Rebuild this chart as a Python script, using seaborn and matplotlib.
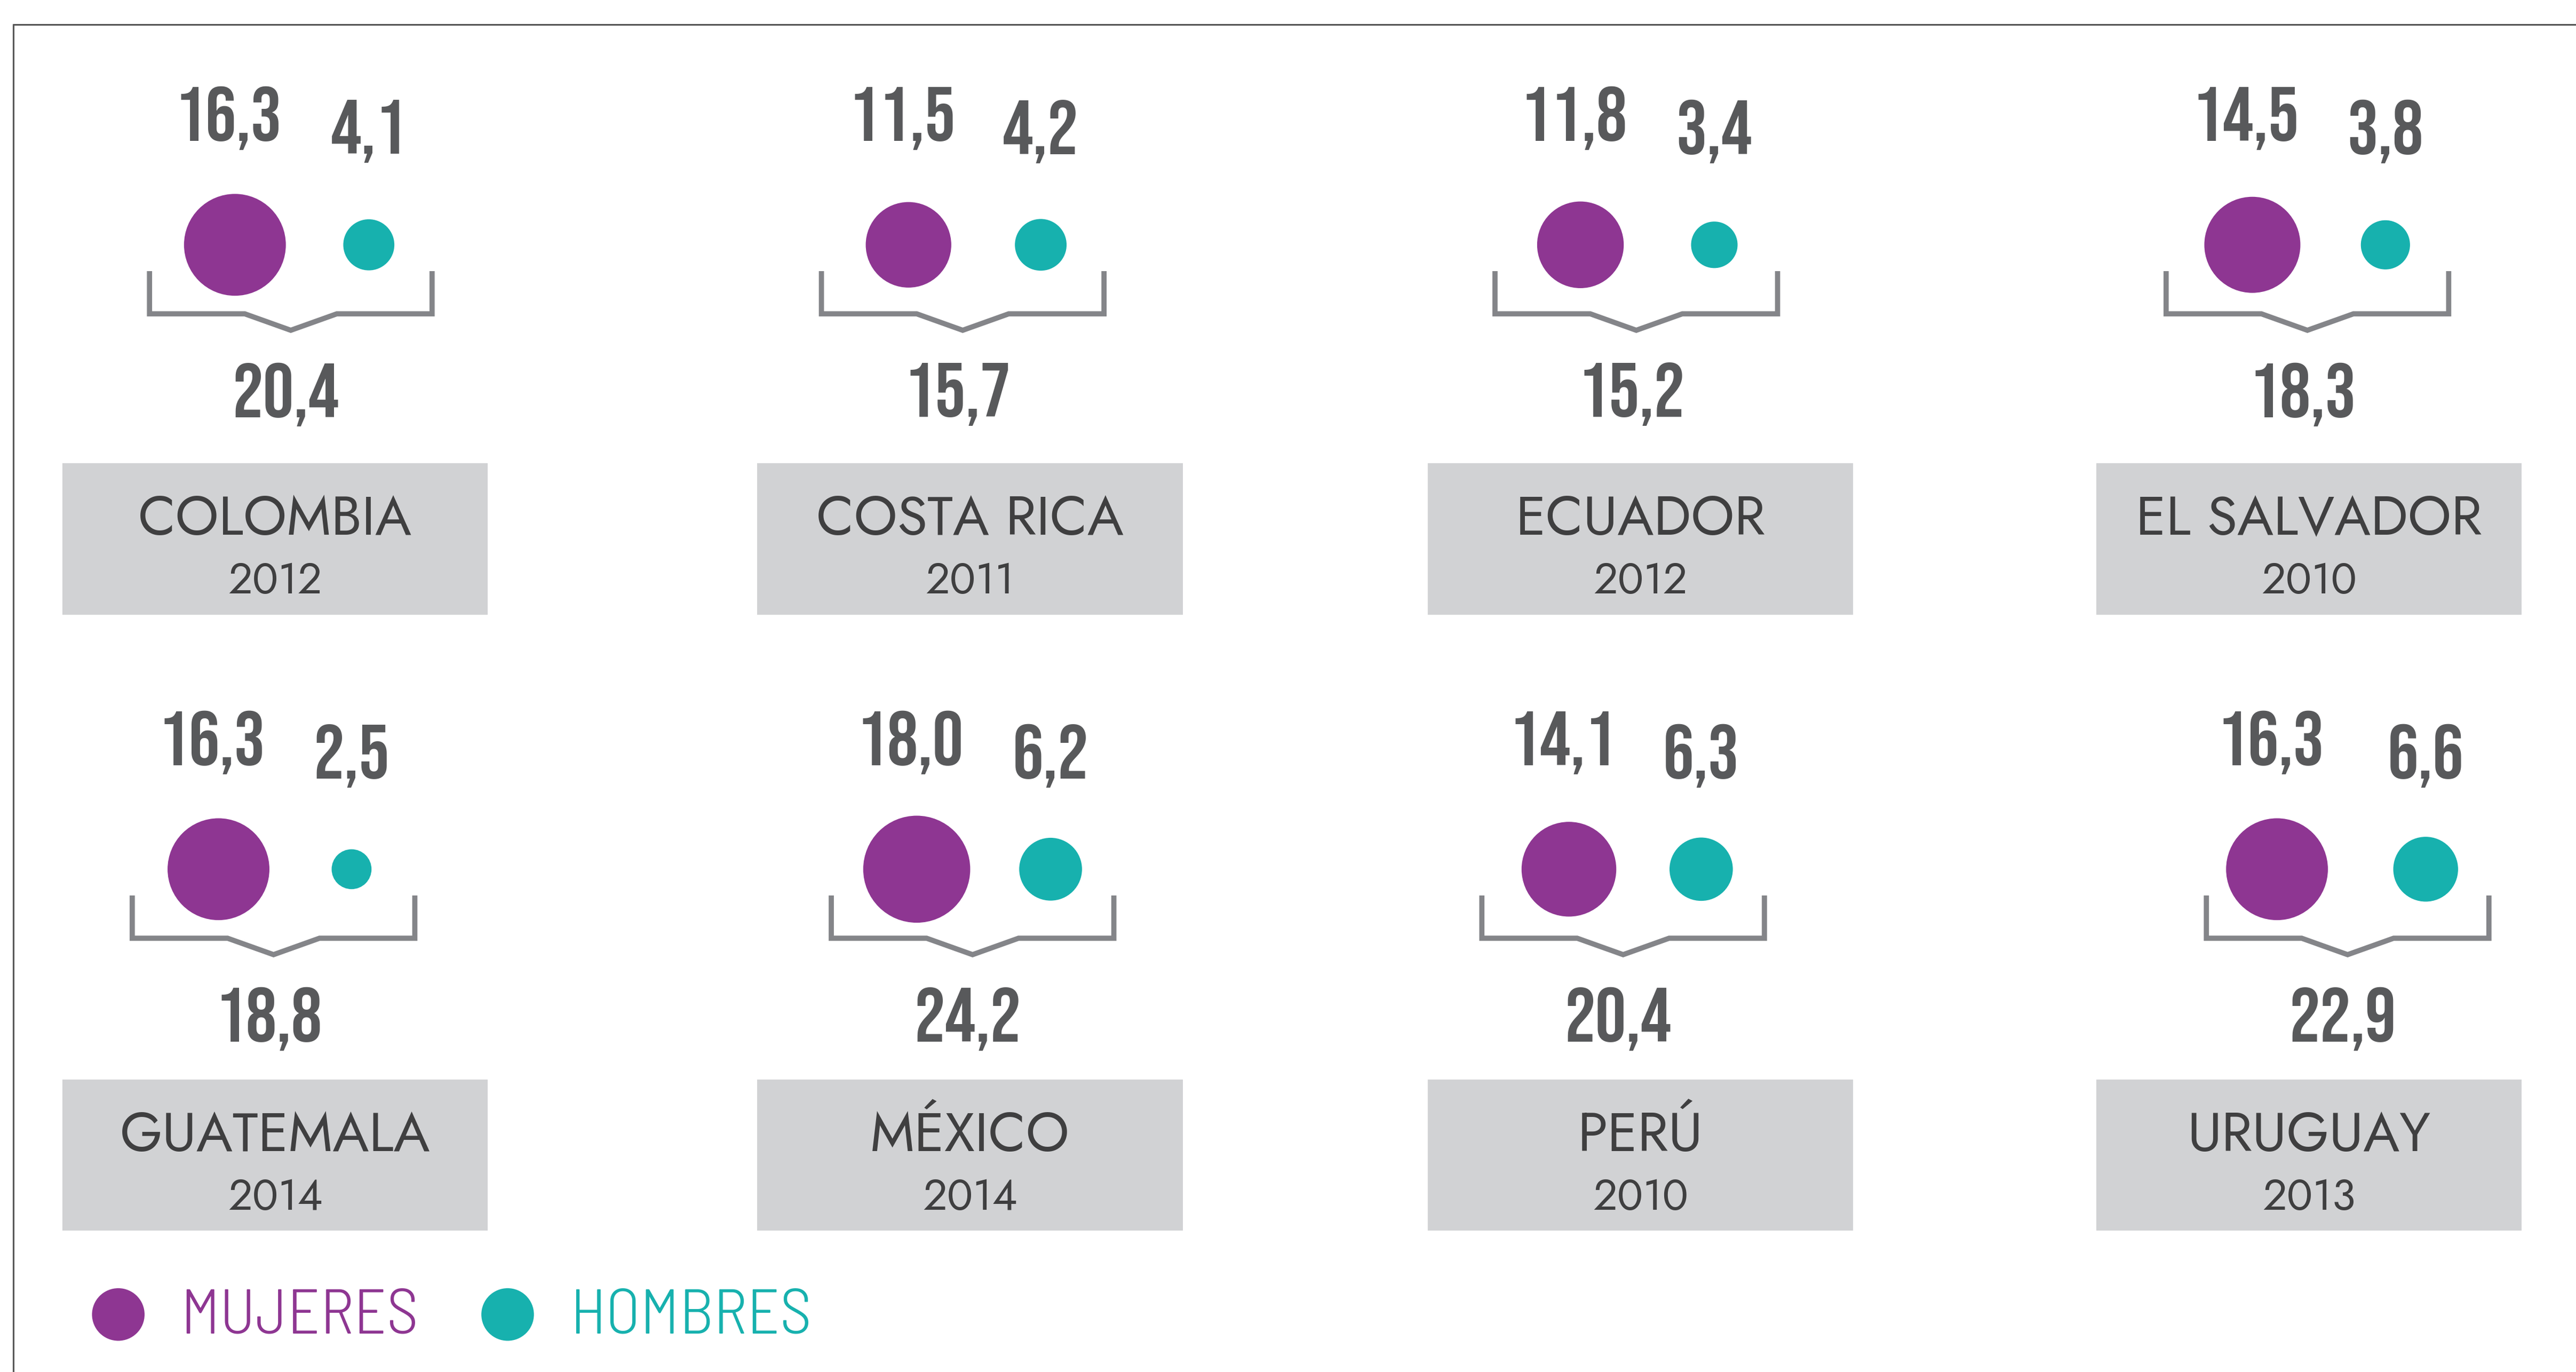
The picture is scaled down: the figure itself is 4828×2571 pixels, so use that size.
import matplotlib
matplotlib.use("Agg")
import matplotlib.pyplot as plt
import seaborn as sns
import pandas as pd

# data
countries = ["COLOMBIA", "COSTA RICA", "ECUADOR", "EL SALVADOR",
             "GUATEMALA", "MÉXICO", "PERÚ", "URUGUAY"]
years = ["2012", "2011", "2012", "2010", "2014", "2014", "2010", "2013"]
mujeres = [16.3, 11.5, 11.8, 14.5, 16.3, 18.0, 14.1, 16.3]
hombres = [4.1, 4.2, 3.4, 3.8, 2.5, 6.2, 6.3, 6.6]
total = [20.4, 15.7, 15.2, 18.3, 18.8, 24.2, 20.4, 22.9]

PURPLE = "#8e3692"
TEAL = "#17b1ae"
TXT = "#58595b"
DARK = "#3f3f40"
BOX = "#d1d2d4"
BRK = "#848589"

# layout (in units of the 1568 px wide preview)
box_cx = [167.5, 590.5, 998.5, 1405.5]
circ_y = [149, 529]
box_top = [282, 657]
group_x = [177, 586, 996, 1404.5, 166.5, 592, 988, 1429]
purple_dx = [-34, -33, -34, -33.5, -33.5, -34, -33, -43]
teal_dx = 47.5

NUMFONT = ["Bebas Neue", "DejaVu Sans"]
NAMEFONT = ["Jost", "DejaVu Sans"]
LEGFONT = ["Barlow Semi Condensed", "DejaVu Sans"]


def fmt(v):
    return f"{v:.1f}".replace(".", ",")


sns.set_theme(style="white")
fig = plt.figure(figsize=(48.28, 25.71), dpi=100)
ax = fig.add_axes([0, 0, 1, 1])
ax.set_xlim(0, 1568)
ax.set_ylim(835, 0)
ax.axis("off")

rows = []
for i in range(len(countries)):
    r = i // 4
    gx = group_x[i]
    rows.append({"x": gx + purple_dx[i], "y": circ_y[r], "sexo": "MUJERES", "valor": mujeres[i]})
    rows.append({"x": gx + teal_dx, "y": circ_y[r], "sexo": "HOMBRES", "valor": hombres[i]})
df = pd.DataFrame(rows)

# marker area proportional to value
k = 1158.6
sns.scatterplot(data=df, x="x", y="y", hue="sexo", size="valor",
                palette={"MUJERES": PURPLE, "HOMBRES": TEAL},
                sizes=(0, 30 * k), size_norm=(0, 30), linewidth=0,
                legend=False, ax=ax, zorder=3)

for i in range(len(countries)):
    r = i // 4
    c = i % 4
    gx = group_x[i]
    cy = circ_y[r]
    # value labels
    ax.text(gx + purple_dx[i] - 4, cy - 77, fmt(mujeres[i]), ha="center", va="center",
            fontsize=104, color=TXT, family=NUMFONT)
    ax.text(gx + teal_dx, cy - 69, fmt(hombres[i]), ha="center", va="center",
            fontsize=104, color=TXT, family=NUMFONT)
    # bracket
    bx = [gx - 86, gx - 86, gx - 28, gx, gx + 28, gx + 86, gx + 86]
    by = [cy + 16, cy + 42, cy + 42, cy + 52, cy + 42, cy + 42, cy + 16]
    ax.plot(bx, by, color=BRK, lw=7, solid_joinstyle="miter", solid_capstyle="butt", zorder=2)
    ax.text(gx - 3, cy + 91, fmt(total[i]), ha="center", va="center",
            fontsize=104, color=TXT, family=NUMFONT)
    # country box
    bt = box_top[r]
    ax.add_patch(plt.Rectangle((box_cx[c] - 129.5, bt), 259, 92, color=BOX, lw=0, zorder=1))
    ax.text(box_cx[c], bt + 34, countries[i], ha="center", va="center",
            fontsize=74, color=DARK, family=NAMEFONT)
    ax.text(box_cx[c], bt + 72, years[i], ha="center", va="center",
            fontsize=58, color=DARK, family=NAMEFONT)

# legend
ax.scatter([72, 309], [800, 800], s=[(2 * 16 * 3.079 * 0.72) ** 2] * 2,
           c=[PURPLE, TEAL], linewidths=0, zorder=3)
ax.text(110, 802, "MUJERES", ha="left", va="center", fontsize=86, fontweight=300,
        color=PURPLE, family=LEGFONT)
ax.text(347, 802, "HOMBRES", ha="left", va="center", fontsize=86, fontweight=300,
        color=TEAL, family=LEGFONT)

# frame
ax.plot([8, 1568], [15, 15], color="#555555", lw=2.2, zorder=4)
ax.plot([8, 8], [15, 835], color="#555555", lw=2.2, zorder=4)

fig.savefig("out.png", dpi=100)
